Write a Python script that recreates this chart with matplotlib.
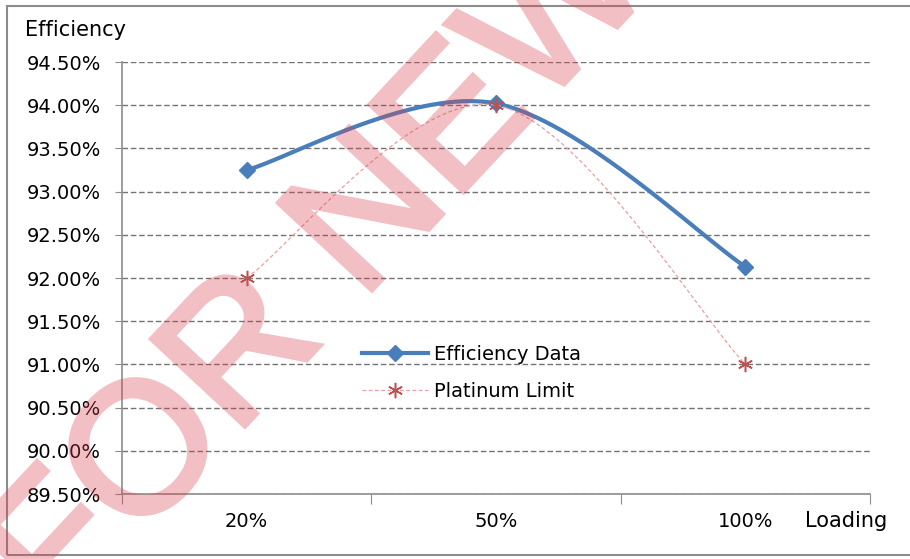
import numpy as np
import matplotlib
matplotlib.use("Agg")
import matplotlib.pyplot as plt
import matplotlib.patheffects as pe
from matplotlib.patches import Rectangle

# data
loading = ["20%", "50%", "100%"]
efficiency = [93.25, 94.02, 92.13]
platinum = [92.00, 94.00, 91.00]
y_ticks = [89.5, 90.0, 90.5, 91.0, 91.5, 92.0, 92.5, 93.0, 93.5, 94.0, 94.5]


def smooth(xs, ys, n=40):
    # Excel-like smoothed line (Catmull-Rom style bezier, 1/6 tangents)
    pts = np.column_stack([xs, ys]).astype(float)
    out = [pts[0]]
    idx = [0]
    for i in range(len(pts) - 1):
        p0 = pts[i - 1] if i > 0 else pts[i]
        p1, p2 = pts[i], pts[i + 1]
        p3 = pts[i + 2] if i + 2 < len(pts) else pts[i + 1]
        c1 = p1 + (p2 - p0) / 6
        c2 = p2 - (p3 - p1) / 6
        t = np.linspace(0, 1, n)[1:, None]
        seg = ((1 - t) ** 3) * p1 + 3 * ((1 - t) ** 2) * t * c1 + 3 * (1 - t) * t ** 2 * c2 + t ** 3 * p2
        out.extend(seg)
        idx.append(len(out) - 1)
    out = np.array(out)
    return out[:, 0], out[:, 1], idx


def fade(img, dpi):
    # make the watermark see-through after it is drawn (stroke + fill as one layer)
    img = img.copy()
    img[..., 3] *= 0.33
    return img, 0, 0


plt.rcParams["font.family"] = "DejaVu Sans"

fig = plt.figure(figsize=(9.1, 5.59), dpi=100)
ax = fig.add_axes([122 / 910, 1 - 494 / 559, 748 / 910, 432 / 559])

x = np.arange(len(loading))
bx, by, bidx = smooth(x, efficiency)
rx, ry, ridx = smooth(x, platinum)

ax.plot(bx, by, color="#4a7ebb", lw=3, marker="D", markersize=8,
        markevery=bidx, label="Efficiency Data", zorder=3)
ax.plot(rx, ry, color="#e8a0a0", lw=0.9, linestyle=(0, (3, 2)),
        marker=(6, 2, 0), markersize=11, markeredgecolor="#c0504d",
        markeredgewidth=1.1, markevery=ridx, label="Platinum Limit", zorder=4)

ax.set_xlim(-0.5, 2.5)
ax.set_ylim(89.5, 94.5)
ax.set_yticks(y_ticks)
ax.set_yticklabels([f"{v:.2f}%" for v in y_ticks], fontsize=14)
ax.yaxis.grid(True, linestyle=(0, (4, 2)), color="0.45", lw=1)
ax.set_axisbelow(True)

ax.set_xticks([-0.5, 0.5, 1.5, 2.5])
ax.set_xticklabels([])
ax.set_xticks(x, minor=True)
ax.set_xticklabels(loading, minor=True, fontsize=14)
ax.tick_params(axis="x", which="major", length=7, color="0.55", direction="out")
ax.tick_params(axis="x", which="minor", length=0, pad=13)
ax.tick_params(axis="y", length=5, color="0.55", pad=10)

for s in ["top", "right"]:
    ax.spines[s].set_visible(False)
for s in ["left", "bottom"]:
    ax.spines[s].set_color("0.55")
    ax.spines[s].set_linewidth(1.2)

leg = ax.legend(loc="center left", bbox_to_anchor=(362 / 910, 1 - 373 / 559),
                bbox_transform=fig.transFigure, frameon=False, fontsize=14,
                handlelength=3.4, handletextpad=0.3, labelspacing=0.95,
                borderpad=0, borderaxespad=0)

fig.text(25 / 910, 1 - 30 / 559, "Efficiency", fontsize=15, ha="left", va="center")
fig.text(846 / 910, 1 - 521 / 559, "Loading", fontsize=15, ha="center", va="center")

# chart border
fig.patches.append(Rectangle((7 / 910, 1 - 555 / 559), 0.995, 549 / 559,
                             transform=fig.transFigure, fill=False,
                             edgecolor="0.55", lw=1.5))

# watermark
wm_color = (0.85, 0.25, 0.3)
wm = fig.text(358 / 910, 1 - 305 / 559, "FOR NEW", fontsize=134, rotation=47,
              family="Liberation Sans", ha="center", va="baseline",
              rotation_mode="anchor", color=wm_color, zorder=10)
wm.set_path_effects([pe.withStroke(linewidth=3.5, foreground=wm_color,
                                   joinstyle="miter")])
wm.set_agg_filter(fade)

fig.savefig("out.png", dpi=100)
